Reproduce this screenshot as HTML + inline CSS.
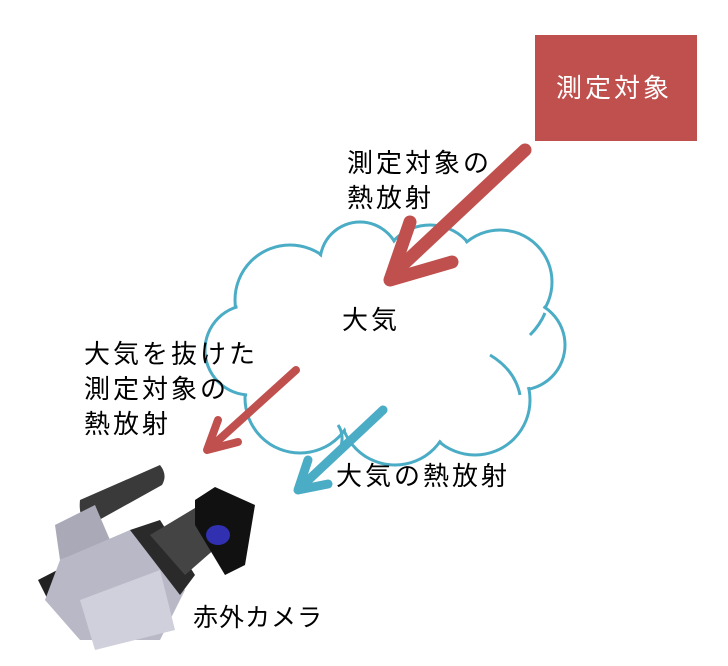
<!DOCTYPE html>
<html><head><meta charset="utf-8"><style>
body{margin:0;background:#fff;width:728px;height:666px;overflow:hidden;position:relative;font-family:"Liberation Sans","Noto Sans CJK JP",sans-serif}
.t{position:absolute;font-size:26px;letter-spacing:3px;line-height:35px;color:#000;white-space:nowrap}
</style></head><body>
<svg width="728" height="666" style="position:absolute;left:0;top:0">
<rect x="535" y="35" width="162" height="106" fill="#c0504d"/>
<g fill="#fff" stroke="#4bacc6" stroke-width="3">
<circle cx="290" cy="300" r="55"/><circle cx="430" cy="275" r="50"/><circle cx="500" cy="282" r="52"/>
<circle cx="520" cy="345" r="45"/><circle cx="475" cy="400" r="55"/><circle cx="395" cy="410" r="55"/>
<circle cx="300" cy="398" r="55"/><circle cx="250" cy="350" r="45"/><circle cx="360" cy="262" r="40"/>
</g>
<g fill="#fff">
<circle cx="290" cy="300" r="53"/><circle cx="430" cy="275" r="48"/><circle cx="500" cy="282" r="50"/>
<circle cx="520" cy="345" r="43"/><circle cx="475" cy="400" r="53"/><circle cx="395" cy="410" r="53"/>
<circle cx="300" cy="398" r="53"/><circle cx="250" cy="350" r="43"/><circle cx="360" cy="262" r="38"/>
<rect x="260" y="290" width="260" height="130"/>
</g>
<g fill="none" stroke="#4bacc6" stroke-width="3">
<path d="M490 355 Q515 370 520 395"/><path d="M545 313 Q540 325 530 335"/><path d="M340 450 Q345 435 338 425"/>
</g>
<g stroke="#c0504d" stroke-linecap="round" stroke-linejoin="round" fill="none">
<line x1="525" y1="150" x2="395" y2="272" stroke-width="13"/>
<polyline points="410,222 390,280 452,262" stroke-width="13"/>
<line x1="296" y1="370" x2="212" y2="446" stroke-width="8"/>
<polyline points="218,420 207,450 238,442" stroke-width="8"/>
</g>
<g stroke="#4bacc6" stroke-linecap="round" stroke-linejoin="round" fill="none">
<line x1="383" y1="410" x2="302" y2="486" stroke-width="9"/>
<polyline points="308,460 298,490 328,484" stroke-width="9"/>
</g>
<g>
<path d="M80 500 L160 465 Q168 475 162 485 L90 525 Q78 520 80 500Z" fill="#3a3a3a"/>
<path d="M55 525 L95 505 L110 540 L60 560Z" fill="#a9a9b8"/>
<path d="M38 580 L100 548 L110 560 L48 600Z" fill="#222"/>
<path d="M60 560 L130 530 L185 590 L160 640 L80 640 L45 600Z" fill="#b8b8c6"/>
<path d="M80 600 L160 570 L175 630 L95 650Z" fill="#d0d0dc"/>
<path d="M130 530 L160 520 L195 575 L180 595Z" fill="#2a2a2a"/>
<path d="M150 535 L200 505 L225 540 L185 575Z" fill="#444"/>
<path d="M195 500 L215 487 L255 505 L245 565 L225 575 L195 525Z" fill="#111"/>
<ellipse cx="218" cy="535" rx="12" ry="10" fill="#3030b0"/>
</g>
</svg>
<div class="t" style="left:556px;top:71px;color:#fff">測定対象</div>
<div class="t" style="left:347px;top:146px">測定対象の<br>熱放射</div>
<div class="t" style="left:342px;top:303px">大気</div>
<div class="t" style="left:84px;top:337px">大気を抜けた<br>測定対象の<br>熱放射</div>
<div class="t" style="left:336px;top:459px">大気の熱放射</div>
<div class="t" style="left:193px;top:601px;font-size:25px;letter-spacing:1px">赤外カメラ</div>
</body></html>
